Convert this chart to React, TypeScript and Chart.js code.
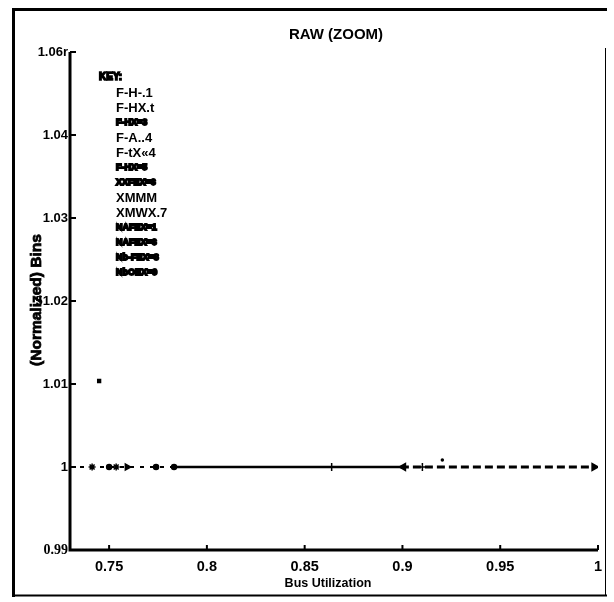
import React, { useEffect, useRef } from "react";
import { Chart, registerables } from "chart.js";
Chart.register(...registerables);

const TITLE = "RAW (ZOOM)";
const X_TITLE = "Bus Utilization";
const Y_TITLE = "(Normalized) Bins";
const X_TICKS = [0.75, 0.8, 0.85, 0.9, 0.95, 1];
const X_TICK_LABELS = ["0.75", "0.8", "0.85", "0.9", "0.95", "1"];
const Y_TICKS = [0.99, 1, 1.01, 1.02, 1.03, 1.04, 1.05];
const Y_TICK_LABELS = ["0.99", "1", "1.01", "51.02", "1.03", "1.04", "1.06r"];
const KEY_TITLE = "KEY:";
const KEY_LABELS = ["F-H-.1", "F-HX.t", "F-HX=3", "F-A..4", "F-tX«4", "F-HX=5", "XXFEX=6", "XMMM", "XMWX.7", "NAFEX=1", "NAFEX=6", "Nb-FEX=8", "NbOEX=9"];
const KEY_BLOTTED = [false, false, true, false, false, true, true, false, false, true, true, true, true];

// series lying along y = 1
const LEFT_X = [0.73, 0.7847];
const LEFT_Y = [1, 1];
const MID_X = [0.7847, 0.8992];
const MID_Y = [1, 1];
const RIGHT_X = [0.8992, 0.999];
const RIGHT_Y = [1, 1];
const MARKER_X = [0.7413, 0.75, 0.7536, 0.7592, 0.774, 0.7832, 0.8638, 0.9005, 0.9102, 0.998, 0.7449, 0.9204];
const MARKER_Y = [1, 1, 1, 1, 1, 1, 1, 1, 1, 1, 1.01036, 1.00084];
const MARKER_STYLES = ["star", "circle", "star", "triangle", "circle", "circle", "cross", "triangle", "cross", "triangle", "rect", "circle"];
const MARKER_ROT = [0, 0, 0, 90, 0, 0, 0, -90, 0, 90, 0, 0];
const MARKER_R = [3.5, 2.5, 3.5, 3.5, 2.5, 2.5, 4, 4, 4, 4, 2, 1];

const zip = (xs: number[], ys: number[]) => xs.map((x, i) => ({ x, y: ys[i] }));
const SANS = "'Liberation Sans', Arial, Helvetica, sans-serif";
const SERIF = "'Liberation Serif', 'Times New Roman', serif";

const decor = {
  id: "decor",
  afterDraw(chart: any) {
    const ctx = chart.ctx;
    const { left, right, top, bottom } = chart.chartArea;
    const xs = chart.scales.x;
    const ys = chart.scales.y;
    ctx.save();
    ctx.fillStyle = "#000";
    ctx.strokeStyle = "#000";
    // outer frame
    ctx.lineWidth = 3;
    ctx.beginPath();
    ctx.moveTo(12, 9.5); ctx.lineTo(607, 9.5);
    ctx.moveTo(13.5, 8); ctx.lineTo(13.5, 597);
    ctx.stroke();
    ctx.lineWidth = 2;
    ctx.beginPath();
    ctx.moveTo(12, 595.5); ctx.lineTo(607, 595.5);
    ctx.stroke();
    ctx.lineWidth = 1;
    ctx.beginPath();
    ctx.moveTo(605.5, 48); ctx.lineTo(605.5, 596);
    ctx.stroke();
    // axes
    ctx.lineWidth = 3;
    ctx.beginPath();
    ctx.moveTo(left, top); ctx.lineTo(left, bottom + 1.5);
    ctx.moveTo(left - 1.5, bottom); ctx.lineTo(right, bottom);
    ctx.stroke();
    ctx.lineWidth = 2;
    ctx.beginPath();
    Y_TICKS.forEach((v) => {
      const py = ys.getPixelForValue(v);
      ctx.moveTo(left, py); ctx.lineTo(left + 6, py);
    });
    X_TICKS.forEach((v) => {
      const px = xs.getPixelForValue(v);
      ctx.moveTo(px, bottom); ctx.lineTo(px, bottom - 5);
    });
    ctx.stroke();
    // titles
    ctx.textAlign = "center";
    ctx.textBaseline = "middle";
    ctx.font = `bold 15px ${SANS}`;
    ctx.fillText(TITLE, 336, 35);
    ctx.font = `bold 12.5px ${SANS}`;
    ctx.fillText(X_TITLE, 328, 584);
    ctx.save();
    ctx.translate(37, 300);
    ctx.rotate(-Math.PI / 2);
    ctx.font = `bold 15.5px ${SANS}`;
    ctx.lineWidth = 0.8;
    ctx.strokeText(Y_TITLE, 0, 0);
    ctx.fillText(Y_TITLE, 0, 0);
    ctx.restore();
    // key
    ctx.textAlign = "left";
    ctx.font = `bold 10px ${SANS}`;
    ctx.lineWidth = 1.6;
    ctx.strokeText(KEY_TITLE, 99, 77);
    ctx.fillText(KEY_TITLE, 99, 77);
    KEY_LABELS.forEach((t, i) => {
      const y = 93 + i * 15;
      if (KEY_BLOTTED[i]) {
        ctx.font = `bold 9px ${SANS}`;
        ctx.lineWidth = 1.8;
        ctx.strokeText(t, 116, y);
        ctx.fillText(t, 116, y);
      } else {
        ctx.font = `bold 13px ${SANS}`;
        ctx.fillText(t, 116, y);
      }
    });
    ctx.restore();
  },
};

export default function App() {
  const ref = useRef<HTMLCanvasElement>(null);
  useEffect(() => {
    if (!ref.current) return;
    const chart = new Chart(ref.current, {
      type: "line",
      data: {
        datasets: [
          { data: zip(LEFT_X, LEFT_Y), borderColor: "#000", borderWidth: 2, borderDash: [4, 6], pointRadius: 0 },
          { data: zip(MID_X, MID_Y), borderColor: "#000", borderWidth: 2.5, pointRadius: 0 },
          { data: zip(RIGHT_X, RIGHT_Y), borderColor: "#000", borderWidth: 3, borderDash: [8, 4], pointRadius: 0 },
          {
            data: zip(MARKER_X, MARKER_Y),
            showLine: false,
            borderColor: "#000",
            backgroundColor: "#000",
            borderWidth: 1.5,
            pointStyle: MARKER_STYLES as any,
            rotation: MARKER_ROT as any,
            pointRadius: MARKER_R as any,
          },
        ] as any,
      },
      options: {
        animation: false,
        responsive: false,
        events: [],
        layout: { padding: { top: 52, right: 16, left: 0, bottom: 0 } },
        plugins: { legend: { display: false }, tooltip: { enabled: false }, title: { display: false } },
        scales: {
          x: {
            type: "linear",
            min: 0.73,
            max: 1,
            border: { display: false },
            grid: { display: false, drawTicks: false },
            afterBuildTicks: (s: any) => { s.ticks = X_TICKS.map((v) => ({ value: v })); },
            afterFit: (s: any) => { s.height = 52; },
            ticks: {
              color: "#000",
              padding: 8,
              maxRotation: 0,
              autoSkip: false,
              font: { family: SANS, size: 14.5, weight: "bold" },
              callback: (_v: any, i: number) => X_TICK_LABELS[i],
            },
          },
          y: {
            type: "linear",
            min: 0.99,
            max: 1.05,
            border: { display: false },
            grid: { display: false, drawTicks: false },
            afterBuildTicks: (s: any) => { s.ticks = Y_TICKS.map((v) => ({ value: v })); },
            afterFit: (s: any) => { s.width = 70; },
            ticks: {
              color: "#000",
              padding: 2,
              autoSkip: false,
              font: (c: any) =>
                c.index === 0
                  ? { family: SERIF, size: 14, weight: "bold" }
                  : { family: SANS, size: 13, weight: "bold" },
              callback: (_v: any, i: number) => Y_TICK_LABELS[i],
            },
          },
        },
      } as any,
      plugins: [decor],
    });
    return () => chart.destroy();
  }, []);
  return (
    <div style={{ position: "fixed", left: 0, top: 0, width: 614, height: 602, background: "#fff" }}>
      <canvas ref={ref} width={614} height={602} style={{ display: "block" }} />
    </div>
  );
}
